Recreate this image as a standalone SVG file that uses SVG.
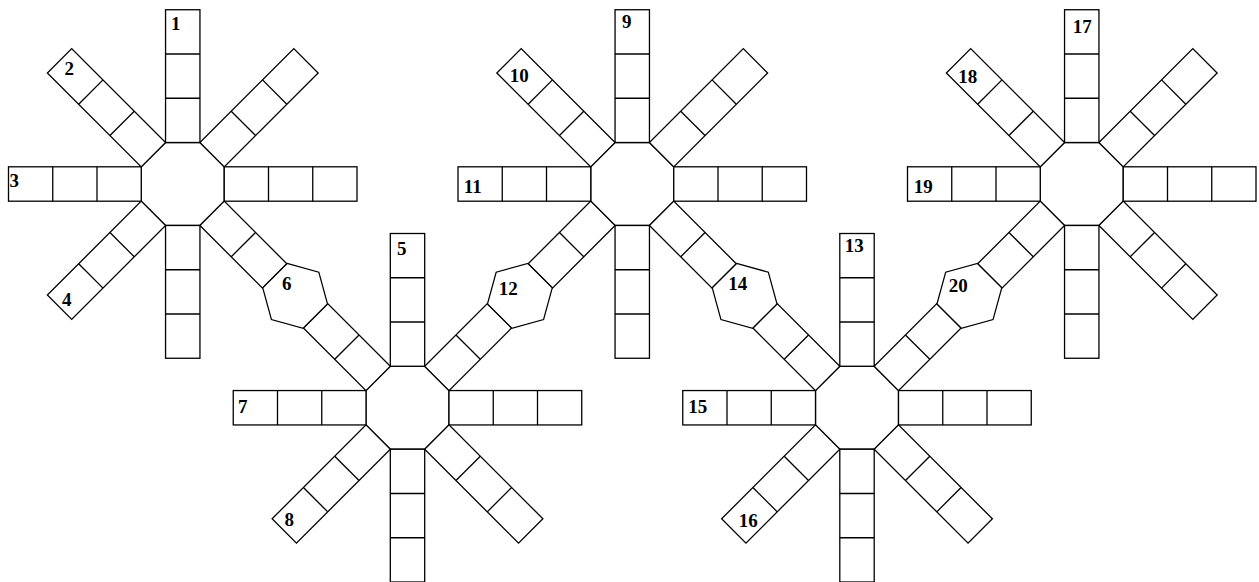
<svg xmlns="http://www.w3.org/2000/svg" xmlns:xlink="http://www.w3.org/1999/xlink" width="1259" height="582" viewBox="0 0 1259 582">
  <style>
    .c{fill:#fff;stroke:#000;stroke-width:1.3;stroke-linejoin:miter}
    .d{fill:none;stroke:#000;stroke-width:1.3}
    .l{font-family:"Liberation Serif","Times New Roman",serif;font-weight:bold;font-size:19px;text-anchor:middle;fill:#000}
  </style>
  <defs>
    <polygon id="oct" class="c" points="-17.2,-41.5 17.2,-41.5 41.5,-17.2 41.5,17.2 17.2,41.5 -17.2,41.5 -41.5,17.2 -41.5,-17.2"/>
    <g id="arm3">
      <rect class="c" x="-17.2" y="-174.25" width="34.4" height="132.75"/>
      <line class="d" x1="-17.2" y1="-130" x2="17.2" y2="-130"/>
      <line class="d" x1="-17.2" y1="-85.75" x2="17.2" y2="-85.75"/>
    </g>
    <g id="arm2">
      <rect class="c" x="-17.2" y="-130" width="34.4" height="88.5"/>
      <line class="d" x1="-17.2" y1="-85.75" x2="17.2" y2="-85.75"/>
    </g>
    <polygon id="hex" class="c" points="-28.6,-17.2 0,-33.5 28.6,-17.2 28.6,17.2 0,33.5 -28.6,17.2"/>
  </defs>
  <rect width="1259" height="582" fill="#fff"/>

  <g id="flake-1" transform="translate(182.75 184)">
    <use href="#oct"/>
    <use href="#arm3"/>
    <use href="#arm3" transform="rotate(45)"/>
    <use href="#arm3" transform="rotate(90)"/>
    <use href="#arm2" transform="rotate(135)"/>
    <use href="#arm3" transform="rotate(180)"/>
    <use href="#arm3" transform="rotate(225)"/>
    <use href="#arm3" transform="rotate(270)"/>
    <use href="#arm3" transform="rotate(315)"/>
  </g>
  <g id="flake-2" transform="translate(632.25 184)">
    <use href="#oct"/>
    <use href="#arm3"/>
    <use href="#arm3" transform="rotate(45)"/>
    <use href="#arm3" transform="rotate(90)"/>
    <use href="#arm2" transform="rotate(135)"/>
    <use href="#arm3" transform="rotate(180)"/>
    <use href="#arm2" transform="rotate(225)"/>
    <use href="#arm3" transform="rotate(270)"/>
    <use href="#arm3" transform="rotate(315)"/>
  </g>
  <g id="flake-3" transform="translate(1081.75 184)">
    <use href="#oct"/>
    <use href="#arm3"/>
    <use href="#arm3" transform="rotate(45)"/>
    <use href="#arm3" transform="rotate(90)"/>
    <use href="#arm3" transform="rotate(135)"/>
    <use href="#arm3" transform="rotate(180)"/>
    <use href="#arm2" transform="rotate(225)"/>
    <use href="#arm3" transform="rotate(270)"/>
    <use href="#arm3" transform="rotate(315)"/>
  </g>
  <g id="flake-4" transform="translate(407.5 407.75)">
    <use href="#oct"/>
    <use href="#arm3"/>
    <use href="#arm2" transform="rotate(45)"/>
    <use href="#arm3" transform="rotate(90)"/>
    <use href="#arm3" transform="rotate(135)"/>
    <use href="#arm3" transform="rotate(180)"/>
    <use href="#arm3" transform="rotate(225)"/>
    <use href="#arm3" transform="rotate(270)"/>
    <use href="#arm2" transform="rotate(315)"/>
  </g>
  <g id="flake-5" transform="translate(857 407.75)">
    <use href="#oct"/>
    <use href="#arm3"/>
    <use href="#arm2" transform="rotate(45)"/>
    <use href="#arm3" transform="rotate(90)"/>
    <use href="#arm3" transform="rotate(135)"/>
    <use href="#arm3" transform="rotate(180)"/>
    <use href="#arm3" transform="rotate(225)"/>
    <use href="#arm3" transform="rotate(270)"/>
    <use href="#arm2" transform="rotate(315)"/>
  </g>

  <g id="connectors">
    <use href="#hex" transform="translate(295.125 295.875) rotate(45)"/>
    <use href="#hex" transform="translate(519.875 295.875) rotate(-45)"/>
    <use href="#hex" transform="translate(744.625 295.875) rotate(45)"/>
    <use href="#hex" transform="translate(969.375 295.875) rotate(-45)"/>
  </g>

  <g id="labels" class="l">
    <text x="175.8" y="29.5">1</text>
    <text x="69.3" y="74.8">2</text>
    <text x="14.2" y="187">3</text>
    <text x="66.7" y="305.8">4</text>
    <text x="401.7" y="254.8">5</text>
    <text x="286.7" y="289.8">6</text>
    <text x="242.7" y="412.5">7</text>
    <text x="289.3" y="525.8">8</text>
    <text x="626.7" y="27.5">9</text>
    <text x="519.3" y="81.5">10</text>
    <text x="472.7" y="193.2">11</text>
    <text x="508.3" y="294.8">12</text>
    <text x="854.3" y="251.5">13</text>
    <text x="737.7" y="289.8">14</text>
    <text x="697.7" y="412.5">15</text>
    <text x="748.3" y="526.5">16</text>
    <text x="1082.2" y="33">17</text>
    <text x="967.7" y="83.2">18</text>
    <text x="923.3" y="192.5">19</text>
    <text x="958.3" y="291.5">20</text>
  </g>
</svg>
